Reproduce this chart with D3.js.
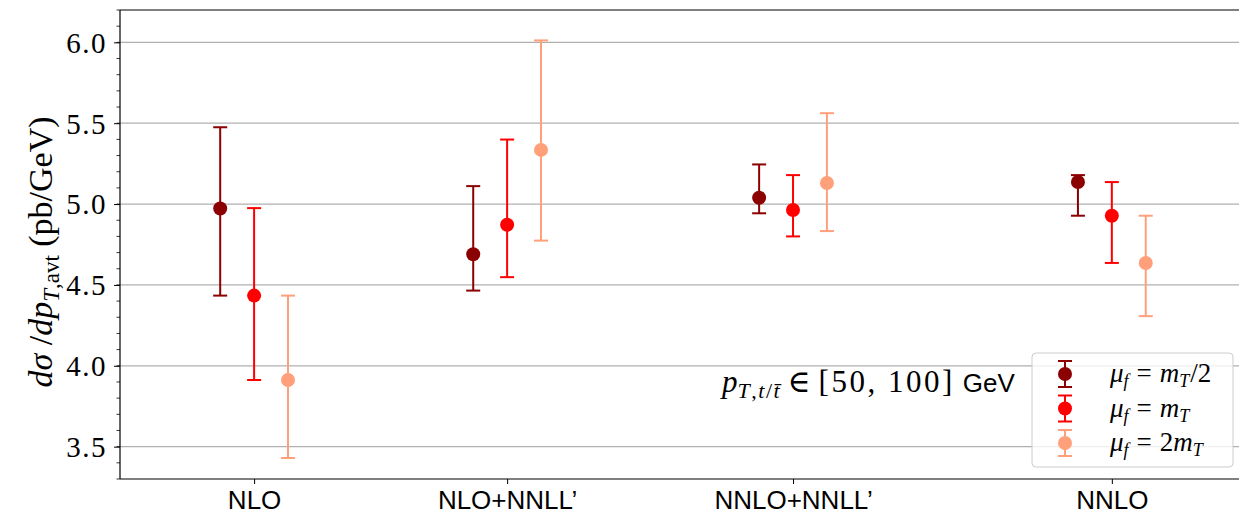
<!DOCTYPE html>
<html>
<head>
<meta charset="utf-8">
<script src="https://cdn.jsdelivr.net/npm/d3@7"></script>
<style>
  body { margin: 0; background: #fff; }
  svg { display: block; }
  .serif { font-family: "Liberation Serif", "DejaVu Serif", serif; }
  .sans { font-family: "Liberation Sans", Arial, sans-serif; }
</style>
</head>
<body>
<svg id="chart" width="1239" height="515"></svg>
<script>
// data
var categories = ["NLO", "NLO+NNLL’", "NNLO+NNLL’", "NNLO"];
var categoryPos = [0, 1, 2.13, 3.39];

var centralHalf = [4.973, 4.690, 5.039, 5.136];
var upHalf = [5.475, 5.111, 5.245, 5.179];
var downHalf = [4.434, 4.465, 4.943, 4.928];

var centralOne = [4.434, 4.872, 4.963, 4.928];
var upOne = [4.975, 5.399, 5.179, 5.136];
var downOne = [3.912, 4.548, 4.800, 4.636];

var centralTwo = [3.912, 5.335, 5.130, 4.636];
var upTwo = [4.434, 6.012, 5.562, 4.928];
var downTwo = [3.430, 4.774, 4.833, 4.307];

var yTicks = [3.5, 4.0, 4.5, 5.0, 5.5, 6.0];

var series = [
    {name: "half", offset: -0.134, color: "#8b0000", mid: centralHalf, hi: upHalf, lo: downHalf},
    {name: "one", offset: 0, color: "#ff0000", mid: centralOne, hi: upOne, lo: downOne},
    {name: "two", offset: 0.134, color: "#ffa07a", mid: centralTwo, hi: upTwo, lo: downTwo}
];

var svg = d3.select("#chart");
var plotLeft = 120, plotTop = 10, plotBottom = 479, plotRight = 1251;

var x = d3.scaleLinear().domain([-0.53, 3.94]).range([plotLeft, plotRight]);
var y = d3.scaleLinear().domain([3.3, 6.2]).range([plotBottom, plotTop]);

// grid
svg.append("g")
    .selectAll("line")
    .data(yTicks)
    .enter()
    .append("line")
    .attr("x1", plotLeft).attr("x2", plotRight)
    .attr("y1", d => y(d)).attr("y2", d => y(d))
    .attr("stroke", "#b0b0b0")
    .attr("stroke-width", 1.2);

// y axis with minor ticks
var minor = d3.range(3.3, 6.2001, 0.1).map(d => Math.round(d * 10) / 10);
svg.append("g")
    .selectAll("line")
    .data(minor)
    .enter()
    .append("line")
    .attr("x1", plotLeft - 3.5).attr("x2", plotLeft)
    .attr("y1", d => y(d)).attr("y2", d => y(d))
    .attr("stroke", "#000").attr("stroke-width", 0.8);

var yAxis = svg.append("g")
    .attr("transform", "translate(" + plotLeft + ",0)")
    .call(d3.axisLeft(y).tickValues(yTicks).tickFormat(d3.format(".1f")).tickSize(6).tickPadding(7));
yAxis.select(".domain").remove();
yAxis.selectAll("text")
    .attr("class", "serif")
    .style("font-size", "29px")
    .style("letter-spacing", "1.5px")
    .attr("fill", "#000")
    .attr("dy", "0.34em");

// x axis
var xAxis = svg.append("g")
    .attr("transform", "translate(0," + plotBottom + ")")
    .call(d3.axisBottom(x).tickValues(categoryPos).tickFormat((d, i) => categories[i]).tickSize(5).tickPadding(7));
xAxis.select(".domain").remove();
xAxis.selectAll("text")
    .attr("class", "sans")
    .style("font-size", "26px")
    .attr("fill", "#000");

// spines
svg.append("line").attr("x1", plotLeft).attr("x2", plotLeft).attr("y1", plotTop).attr("y2", plotBottom)
    .attr("stroke", "#000").attr("stroke-width", 1.2);
svg.append("line").attr("x1", plotLeft).attr("x2", plotRight).attr("y1", plotTop).attr("y2", plotTop)
    .attr("stroke", "#000").attr("stroke-width", 1.2);
svg.append("line").attr("x1", plotLeft).attr("x2", plotRight).attr("y1", plotBottom).attr("y2", plotBottom)
    .attr("stroke", "#000").attr("stroke-width", 1.2);

// error bars and points
var capHalf = 7;
series.forEach(function(s) {
    var g = svg.append("g").attr("class", "series-" + s.name);
    var pts = categoryPos.map((p, i) => ({x: p + s.offset, mid: s.mid[i], hi: s.hi[i], lo: s.lo[i]}));

    g.selectAll(".bar").data(pts).enter().append("line")
        .attr("x1", d => x(d.x)).attr("x2", d => x(d.x))
        .attr("y1", d => y(d.lo)).attr("y2", d => y(d.hi))
        .attr("stroke", s.color).attr("stroke-width", 2);
    g.selectAll(".capTop").data(pts).enter().append("line")
        .attr("x1", d => x(d.x) - capHalf).attr("x2", d => x(d.x) + capHalf)
        .attr("y1", d => y(d.hi)).attr("y2", d => y(d.hi))
        .attr("stroke", s.color).attr("stroke-width", 2);
    g.selectAll(".capBot").data(pts).enter().append("line")
        .attr("x1", d => x(d.x) - capHalf).attr("x2", d => x(d.x) + capHalf)
        .attr("y1", d => y(d.lo)).attr("y2", d => y(d.lo))
        .attr("stroke", s.color).attr("stroke-width", 2);
    g.selectAll("circle").data(pts).enter().append("circle")
        .attr("cx", d => x(d.x)).attr("cy", d => y(d.mid))
        .attr("r", 7)
        .attr("fill", s.color);
});

// y label
var yLabel = svg.append("text")
    .attr("class", "serif")
    .attr("transform", "translate(52,252) rotate(-90)")
    .attr("text-anchor", "middle")
    .style("font-size", "34px")
    .attr("fill", "#000");
yLabel.append("tspan").style("font-style", "italic").text("dσ");
yLabel.append("tspan").text(" /");
yLabel.append("tspan").style("font-style", "italic").text("dp");
yLabel.append("tspan").attr("dy", 7).style("font-size", "23px").style("font-style", "italic").text("T");
yLabel.append("tspan").style("font-size", "23px").text(",avt");
yLabel.append("tspan").attr("dy", -7).text("  (pb/GeV)");

// annotation
var note = svg.append("text")
    .attr("x", 722).attr("y", 392)
    .attr("class", "serif")
    .style("font-size", "31px")
    .attr("fill", "#000");
note.append("tspan").style("font-style", "italic").text("p");
note.append("tspan").attr("dy", 6).style("font-size", "22px").style("font-style", "italic").style("letter-spacing", "1.5px").text("T");
note.append("tspan").style("font-size", "22px").style("letter-spacing", "1.5px").text(",");
note.append("tspan").style("font-size", "22px").style("font-style", "italic").style("letter-spacing", "1.5px").text("t");
note.append("tspan").style("font-size", "22px").style("letter-spacing", "1.5px").text("/");
note.append("tspan").style("font-size", "22px").style("font-style", "italic").text("t̄");
note.append("tspan").attr("dy", -6).attr("dx", 8).text("∈");
note.append("tspan").attr("dx", 8).style("letter-spacing", "2.5px").text("[50, 100]");
note.append("tspan").attr("dx", 8).attr("class", "sans").style("font-size", "26px").text("GeV");

// legend
var legend = svg.append("g");
legend.append("rect")
    .attr("x", 1032).attr("y", 353).attr("width", 201).attr("height", 114)
    .attr("rx", 4)
    .attr("fill", "#fff").attr("fill-opacity", 0.8)
    .attr("stroke", "#cccccc").attr("stroke-width", 1);

var legendLabels = [["m", "T", "/2"], ["m", "T", ""], ["2m", "T", ""]];
series.forEach(function(s, i) {
    var cy = 374 + i * 34.5;
    var lx = 1065;
    legend.append("line").attr("x1", lx).attr("x2", lx).attr("y1", cy - 13).attr("y2", cy + 13)
        .attr("stroke", s.color).attr("stroke-width", 2);
    legend.append("line").attr("x1", lx - capHalf).attr("x2", lx + capHalf).attr("y1", cy - 13).attr("y2", cy - 13)
        .attr("stroke", s.color).attr("stroke-width", 2);
    legend.append("line").attr("x1", lx - capHalf).attr("x2", lx + capHalf).attr("y1", cy + 13).attr("y2", cy + 13)
        .attr("stroke", s.color).attr("stroke-width", 2);
    legend.append("circle").attr("cx", lx).attr("cy", cy).attr("r", 7).attr("fill", s.color);

    var t = legend.append("text")
        .attr("x", 1110).attr("y", cy + 8)
        .attr("class", "serif")
        .style("font-size", "27px")
        .attr("fill", "#000");
    t.append("tspan").style("font-style", "italic").text("μ");
    t.append("tspan").attr("dy", 5).style("font-size", "18px").style("font-style", "italic").text("f");
    t.append("tspan").attr("dy", -5).attr("dx", 8).text("=");
    var lab = legendLabels[i];
    if (lab[0] == "2m") {
        t.append("tspan").attr("dx", 8).text("2");
        t.append("tspan").style("font-style", "italic").text("m");
    } else {
        t.append("tspan").attr("dx", 8).style("font-style", "italic").text("m");
    }
    t.append("tspan").attr("dy", 5).style("font-size", "18px").style("font-style", "italic").text(lab[1]);
    if (lab[2]) {
        t.append("tspan").attr("dy", -5).attr("dx", 1).text(lab[2]);
    }
});
</script>
</body>
</html>
